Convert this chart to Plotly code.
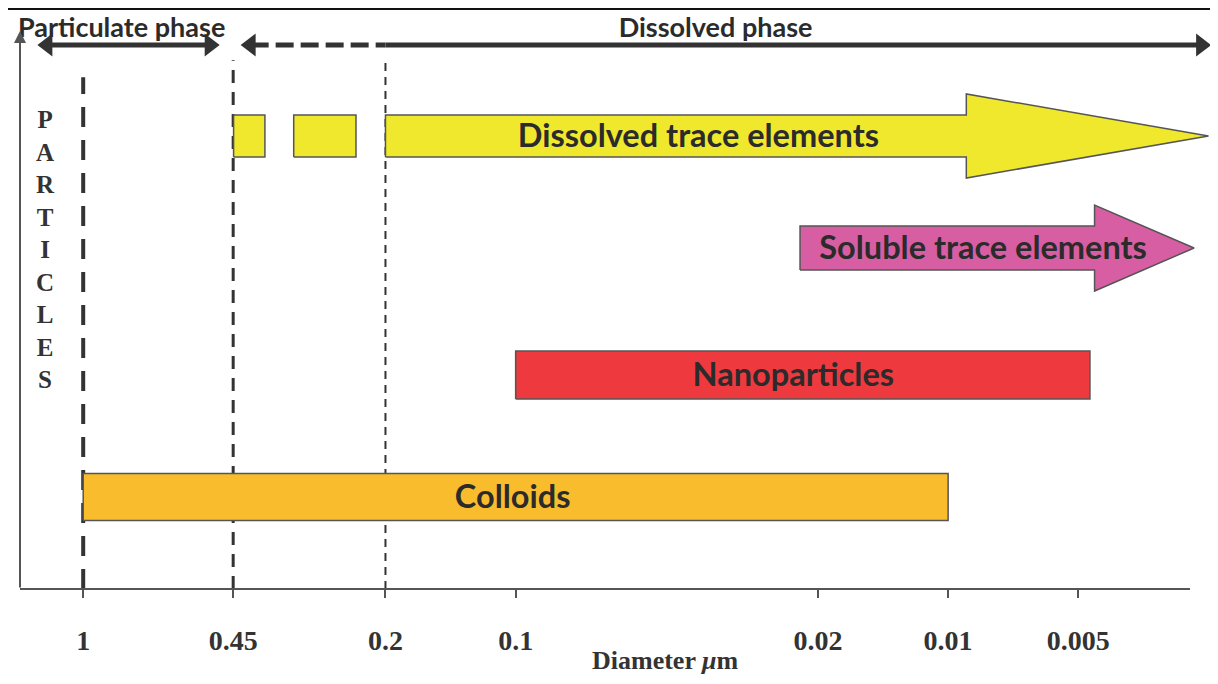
import numpy as np
import plotly.graph_objects as go

# ---------------- data (diameters in µm) ----------------
tick_values = [1, 0.45, 0.2, 0.1, 0.02, 0.01, 0.005]
tick_labels = ["1", "0.45", "0.2", "0.1", "0.02", "0.01", "0.005"]

# filtration cut-offs drawn as dashed verticals
cutoffs = [1, 0.45, 0.2]

# size classes (start diameter, end diameter)
class_names = ["Dissolved trace elements", "Soluble trace elements", "Nanoparticles", "Colloids"]
class_start = [0.2, 0.022, 0.1, 1]
class_end = [0.0025, 0.0027, 0.0047, 0.01]
class_is_arrow = [True, True, False, False]
class_label_x = [0.0378, 0.0083, 0.0228, 0.1016]

# extra discontinuous pieces of the dissolved trace-element band
dissolved_pieces_start = [0.449, 0.326]
dissolved_pieces_end = [0.38, 0.234]

# phases (start, end) shown as arrows on top
phase_names = ["Particulate phase", "Dissolved phase"]
phase_start = [1.21, 0.41]
phase_end = [0.51, 0.0026]
phase_label_x = [0.815, 0.0345]
dissolved_dashed_until = 0.2

# axis extent (µm)
x_left, x_right = 1.40, 0.00248

# ---------------- styles ----------------
row_y = [77.97, 58.69, 36.83, 15.83]       # vertical rows (0-100 plot units)
row_half = [3.61, 3.79, 4.13, 4.04]
head_half = [7.23, 7.40, None, None]
head_len_dec = [0.56, 0.23, None, None]    # arrow head length in decades
label_dy = -0.5
fill_colors = ["#F0E82C", "#D85EA3", "#EE3A3F", "#F9BC2D"]
outline = "#555555"
text_color = "#2b2b2b"
row_font = dict(family="Lato", size=32.5, color=text_color, weight="bold")
phase_font = dict(family="Lato", size=27, color=text_color, weight="bold")
cut_styles = [dict(width=4, dash="20px,13px"), dict(width=3, dash="13px,9px"), dict(width=2, dash="8px,6px")]
cut_top = [88.1, 91.0, 90.7]
phase_y = 93.63
phase_text_y = 96.2

# page geometry (the page body adds an 8px offset)
W, H = 1202, 668
PL, PT, PR, PB = 12, 0, 0, 87
PW, PH = W - PL - PR, H - PT - PB


def px2paper_x(px):
    return (px - 8 - PL) / PW


def px2paper_y(py):
    return (H - PB + 8 - py) / PH


fig = go.Figure()


def rect(x0, x1, yc, h):
    return [x0, x1, x1, x0, x0], [yc - h, yc - h, yc + h, yc + h, yc - h]


def arrow(x0, tip, yc, h, hh, hl):
    hb = 10 ** (np.log10(tip) + hl)
    xs = [x0, hb, hb, tip, hb, hb, x0, x0]
    ys = [yc - h, yc - h, yc - hh, yc, yc + hh, yc + h, yc + h, yc - h]
    return xs, ys


# vertical cut-off lines
for c, st, top in zip(cutoffs, cut_styles, cut_top):
    fig.add_trace(go.Scatter(x=[c, c], y=[0, top], mode="lines",
                             line=dict(color="#333333", **st), hoverinfo="skip",
                             showlegend=False))

# discontinuous dissolved pieces
for a, b in zip(dissolved_pieces_start, dissolved_pieces_end):
    xs, ys = rect(a, b, row_y[0], row_half[0])
    fig.add_trace(go.Scatter(x=xs, y=ys, fill="toself", fillcolor=fill_colors[0],
                             mode="lines", line=dict(color=outline, width=1.5),
                             hoverinfo="skip", showlegend=False))

# size classes
for i, name in enumerate(class_names):
    if class_is_arrow[i]:
        xs, ys = arrow(class_start[i], class_end[i], row_y[i], row_half[i], head_half[i], head_len_dec[i])
    else:
        xs, ys = rect(class_start[i], class_end[i], row_y[i], row_half[i])
    fig.add_trace(go.Scatter(x=xs, y=ys, fill="toself", fillcolor=fill_colors[i],
                             mode="lines", line=dict(color=outline, width=1.5),
                             hoverinfo="skip", showlegend=False))
    fig.add_trace(go.Scatter(x=[class_label_x[i]], y=[row_y[i] + label_dy], mode="text", text=[name],
                             textfont=row_font, textposition="middle center",
                             hoverinfo="skip", showlegend=False))

# phase arrows
phase_col = "#333333"
fig.add_trace(go.Scatter(x=[phase_start[0], phase_end[0]], y=[phase_y, phase_y], mode="lines+markers",
                         line=dict(color=phase_col, width=5),
                         marker=dict(symbol=["triangle-left", "triangle-right"], size=20, color=phase_col),
                         hoverinfo="skip", showlegend=False, cliponaxis=False))
fig.add_trace(go.Scatter(x=[phase_start[1], dissolved_dashed_until], y=[phase_y, phase_y], mode="lines",
                         line=dict(color=phase_col, width=5, dash="18px,7px"),
                         hoverinfo="skip", showlegend=False))
fig.add_trace(go.Scatter(x=[dissolved_dashed_until, phase_end[1]], y=[phase_y, phase_y], mode="lines",
                         line=dict(color=phase_col, width=5),
                         hoverinfo="skip", showlegend=False))
fig.add_trace(go.Scatter(x=[phase_start[1], phase_end[1]], y=[phase_y, phase_y], mode="markers",
                         marker=dict(symbol=["triangle-left", "triangle-right"], size=20, color=phase_col),
                         hoverinfo="skip", showlegend=False, cliponaxis=False))
fig.add_trace(go.Scatter(x=phase_label_x, y=[phase_text_y] * 2, mode="text", text=phase_names,
                         textfont=phase_font, hoverinfo="skip", showlegend=False, cliponaxis=False))

fig.update_layout(
    width=W, height=H,
    margin=dict(l=PL, r=PR, t=PT, b=PB, autoexpand=False),
    plot_bgcolor="white", paper_bgcolor="white",
    xaxis=dict(type="log", range=[np.log10(x_left), np.log10(x_right)],
               tickvals=tick_values, ticktext=tick_labels,
               ticks="outside", ticklen=8, tickwidth=1.5, tickcolor="#555555",
               tickfont=dict(family="Liberation Serif", size=28, color="#333333", weight="bold"),
               ticklabelstandoff=18,
               showgrid=False, zeroline=False, showline=False),
    yaxis=dict(range=[0, 100], showticklabels=False, showgrid=False, zeroline=False, showline=False),
    shapes=[
        dict(type="line", xref="paper", yref="paper", x0=px2paper_x(20), x1=px2paper_x(1190),
             y0=px2paper_y(589), y1=px2paper_y(589), line=dict(color="#555555", width=2)),
        dict(type="line", xref="paper", yref="paper", x0=px2paper_x(0), x1=px2paper_x(1218),
             y0=px2paper_y(9), y1=px2paper_y(9), line=dict(color="#111111", width=2)),
    ],
    annotations=[
        dict(xref="paper", yref="paper", x=px2paper_x(20), y=px2paper_y(31), ax=0, ay=589 - 31,
             axref="pixel", ayref="pixel", text="", showarrow=True, arrowhead=2, arrowsize=1.2,
             arrowwidth=2, arrowcolor="#555555"),
        dict(xref="paper", yref="paper", x=px2paper_x(45), y=px2paper_y(249),
             text="P<br>A<br>R<br>T<br>I<br>C<br>L<br>E<br>S", showarrow=False,
             font=dict(family="Liberation Serif", size=25, color="#333333", weight="bold"),
             xanchor="center", yanchor="middle"),
        dict(xref="paper", yref="paper", x=px2paper_x(665), y=px2paper_y(661),
             text="Diameter <i>μ</i>m", showarrow=False,
             font=dict(family="Liberation Serif", size=26, color="#333333", weight="bold"),
             xanchor="center", yanchor="middle"),
    ],
)

fig.write_html("out.html")
